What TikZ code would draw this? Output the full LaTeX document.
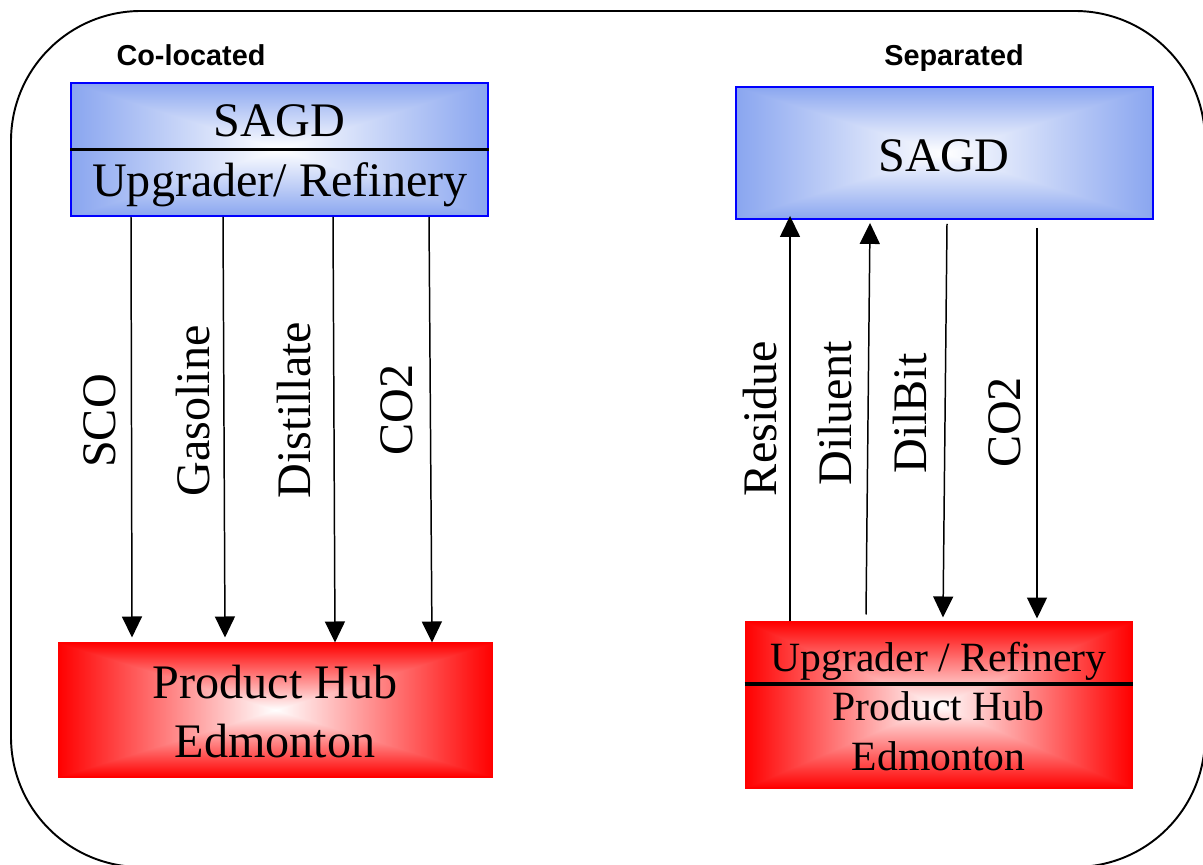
\documentclass[tikz,border=0pt]{standalone}
\usepackage{fontspec}
\setmainfont{Liberation Serif}
\newfontfamily\headfont{Liberation Sans}
\usetikzlibrary{arrows.meta, calc}

% rectangular white-to-colour fades (box maps onto the middle 50bp)
\pgfdeclarefunctionalshading{bluefade}{\pgfpoint{0bp}{0bp}}{\pgfpoint{100bp}{100bp}}{}{
  50 sub abs exch 50 sub abs 2 copy sub abs add add 50 div
  dup 1 sub abs neg add 1 add 2 div
  dup 0.46 mul 1 exch sub exch dup 0.35 mul 1 exch sub exch 0.06 mul 1 exch sub
}
\pgfdeclarefunctionalshading{redfade}{\pgfpoint{0bp}{0bp}}{\pgfpoint{100bp}{100bp}}{}{
  50 sub abs exch 50 sub abs 2 copy sub abs add add 50 div
  dup 1 sub abs neg add 1 add 2 div
  dup 0 mul 1 exch sub exch dup 1 mul 1 exch sub exch 1 mul 1 exch sub
}

\tikzset{
  frame/.style={line width=1.1pt, rounded corners=2.6cm},
  sagdbox/.style={draw=blue, line width=1.1pt, shading=bluefade, inner sep=0pt},
  hubbox/.style={draw=red, line width=0.6pt, shading=redfade, inner sep=0pt},
  split/.style={line width=2.2pt},
  flow/.style={line width=0.85pt, -{Triangle[width=0.4cm, length=0.42cm]}},
  big/.style={anchor=base, inner sep=0pt, font=\fontsize{27.4}{33}\selectfont},
  small/.style={anchor=base, inner sep=0pt, font=\fontsize{23.7}{28}\selectfont},
  head/.style={anchor=base, inner sep=0pt, font=\headfont\bfseries\fontsize{16.4}{19}\selectfont},
  tag/.style={rotate=90, inner sep=0pt, font=\fontsize{27.4}{33}\selectfont}
}

\begin{document}
\begin{tikzpicture}[x=0.02cm, y=-0.02cm]
  \useasboundingbox (0,0) rectangle (1203,865);
  \draw[frame] (11,11) rectangle (1205,867);

  % co-located
  \node[head] (headL) at (191,66) {Co-located};
  \node[sagdbox, minimum width=8.34cm, minimum height=2.66cm] (sagdL) at (279.5,149.5) {};
  \draw[split] (sagdL.west) -- (sagdL.east);
  \node[big] (sagdLtxt) at (279.5,136) {SAGD};
  \node[big] (upgLtxt) at (280,196) {Upgrader/ Refinery};

  \node[hubbox, minimum width=8.7cm, minimum height=2.68cm] (hubL) at (275.5,710) {};
  \node[big] (hubLtxt) at (275,698) {Product Hub};
  \node[big] (edmLtxt) at (275,757) {Edmonton};

  \foreach \a/\b/\g in {-148.5/-143.5/5, -56.5/-50.5/5, 53.5/59.5/0, 149.5/156.5/0}
    \draw[flow] ($(sagdL.south)+(\a,0)$) -- ($(hubL.north)+(\b,-\g)$);

  \foreach \x/\y/\txt [count=\i] in {100/421/SCO, 193.5/411/Gasoline, 294.5/410/Distillate, 396.5/410/CO2}
    \node[tag] (tagL\i) at (\x,\y) {\txt};

  % separated
  \node[head] (headR) at (954,66) {Separated};
  \node[sagdbox, minimum width=8.34cm, minimum height=2.64cm] (sagdR) at (944.5,153) {};
  \node[big] (sagdRtxt) at (944,171) {SAGD};

  \node[hubbox, minimum width=7.74cm, minimum height=3.32cm] (hubR) at (938.5,705) {};
  \coordinate (cutR) at (0,684);
  \draw[split] (hubR.west |- cutR) -- (hubR.east |- cutR);
  \node[small] (upgRtxt) at (938.5,671) {Upgrader / Refinery};
  \node[small] (hubRtxt) at (938.5,720) {Product Hub};
  \node[small] (edmRtxt) at (938.5,770) {Edmonton};

  \draw[flow] ($(hubR.north)+(-148.5,0)$) -- ($(sagdR.south)+(-154.5,-4)$);
  \draw[flow] ($(hubR.north)+(-72.5,-7)$) -- ($(sagdR.south)+(-74.5,3)$);
  \draw[flow] ($(sagdR.south)+(2.5,4)$) -- ($(hubR.north)+(4.5,-4)$);
  \draw[flow] ($(sagdR.south)+(92.5,8)$) -- ($(hubR.north)+(98.5,-3)$);

  \foreach \x/\y/\txt [count=\i] in {760/418.5/Residue, 835/413.5/Diluent, 910/413.5/DilBit, 1004.5/422.5/CO2}
    \node[tag] (tagR\i) at (\x,\y) {\txt};
\end{tikzpicture}
\end{document}
